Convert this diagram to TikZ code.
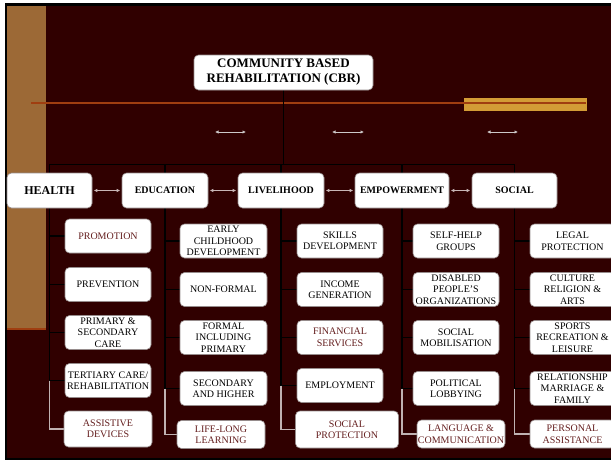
\documentclass[tikz,border=0pt]{standalone}
\usepackage{fontspec}
\setmainfont{Liberation Serif}
\usetikzlibrary{arrows.meta}
\definecolor{bgmaroon}{RGB}{48,0,0}
\definecolor{stripbrown}{RGB}{156,105,54}
\definecolor{goldbar}{RGB}{211,156,54}
\definecolor{orangeline}{RGB}{160,62,16}
\definecolor{boxborder}{RGB}{150,140,140}
\definecolor{hlmaroon}{RGB}{100,30,30}
\definecolor{linkgrey}{RGB}{192,178,178}
\definecolor{arrowgrey}{RGB}{200,182,182}
\definecolor{toparrow}{RGB}{205,200,200}
\pgfdeclarelayer{back}
\pgfdeclarelayer{lines}
\pgfsetlayers{back,lines,main}
\begin{document}
\begin{tikzpicture}[x=1pt,y=-1pt,
  box/.style={draw=boxborder, line width=0.6pt, fill=white, rounded corners=4.5pt,
    inner sep=0pt, align=center, font=\fontsize{10}{11.5}\selectfont},
  cat/.style={box, font=\bfseries\fontsize{10}{12}\selectfont, minimum height=35pt},
  itm/.style={box, minimum width=86pt, minimum height=34pt},
  hl/.style={text=hlmaroon},
  tree/.style={draw=black, line width=1.8pt, line cap=rect},
  lastlink/.style={draw=linkgrey, line width=1.3pt},
  catarrow/.style={draw=arrowgrey, line width=0.9pt,
    arrows={Latex[length=3.5pt,width=3.5pt]-Latex[length=3.5pt,width=3.5pt]},
    shorten <=1.5pt, shorten >=1.5pt},
  toparr/.style={draw=toparrow, line width=0.9pt,
    arrows={Latex[length=3.5pt,width=3.5pt]-Latex[length=3.5pt,width=3.5pt]}}
]
\useasboundingbox (0,0) rectangle (611,461);

% ---------- background ----------
\begin{pgfonlayer}{back}
  \fill[white] (0,0) rectangle (611,461);
  \fill[black] (4.5,3) rectangle (620,460);
  \fill[bgmaroon] (7,6) rectangle (620,457.5);
  \fill[stripbrown] (7,6) rectangle (46,329);
  \draw[orangeline, line width=1.5pt] (7,329) -- (46,329);
  \fill[goldbar] (464,98) rectangle (587,111);
  \draw[orangeline, line width=1.4pt] (31,103) -- (586,103);
\end{pgfonlayer}

% ---------- top node ----------
\node[box, minimum width=179pt, minimum height=35pt,
      font=\bfseries\fontsize{13}{15}\selectfont] (cbr) at (283.5,72.5)
      {COMMUNITY BASED\\REHABILITATION (CBR)};

% ---------- categories ----------
\node[cat, minimum width=85pt, font=\bfseries\fontsize{12}{13}\selectfont] (health) at (49.5,190.5) {HEALTH};
\node[cat, minimum width=86pt] (edu) at (165,190.5) {EDUCATION};
\node[cat, minimum width=86pt] (liv) at (281,190.5) {LIVELIHOOD};
\node[cat, minimum width=94pt] (emp) at (402,190.5) {EMPOWERMENT};
\node[cat, minimum width=85pt] (soc) at (514.5,190.5) {SOCIAL};

% ---------- health ----------
\node[itm, hl] (h1) at (108,236) {PROMOTION};
\node[itm] (h2) at (108,284.5) {PREVENTION};
\node[itm] (h3) at (108,332.5) {PRIMARY \&\\SECONDARY\\CARE};
\node[itm] (h4) at (108,380.5) {TERTIARY CARE/\\REHABILITATION};
\node[itm, hl, minimum width=88pt, minimum height=36pt] (h5) at (108,429) {ASSISTIVE\\DEVICES};

% ---------- education ----------
\node[itm, minimum width=87pt] (e1) at (223.5,241) {EARLY\\CHILDHOOD\\DEVELOPMENT};
\node[itm, minimum width=87pt] (e2) at (223.5,289.5) {NON-FORMAL};
\node[itm, minimum width=87pt] (e3) at (223.5,337.5) {FORMAL\\INCLUDING\\PRIMARY};
\node[itm, minimum width=87pt] (e4) at (223.5,388.5) {SECONDARY\\AND HIGHER};
\node[itm, hl, minimum width=88pt, minimum height=28pt] (e5) at (221,434.5) {LIFE-LONG\\LEARNING};

% ---------- livelihood ----------
\node[itm] (l1) at (340,241) {SKILLS\\DEVELOPMENT};
\node[itm] (l2) at (340,289.5) {INCOME\\GENERATION};
\node[itm, hl] (l3) at (340,337.5) {FINANCIAL\\SERVICES};
\node[itm] (l4) at (340,385.5) {EMPLOYMENT};
\node[itm, hl, minimum width=103pt, minimum height=37pt] (l5) at (347,429.5) {SOCIAL\\PROTECTION};

% ---------- empowerment ----------
\node[itm] (m1) at (456,241) {SELF-HELP\\GROUPS};
\node[itm] (m2) at (456,289.5) {DISABLED\\PEOPLE'S\\ORGANIZATIONS};
\node[itm] (m3) at (456,337.5) {SOCIAL\\MOBILISATION};
\node[itm] (m4) at (456,388.5) {POLITICAL\\LOBBYING};
\node[itm, hl, minimum width=88pt, minimum height=28pt] (m5) at (461,434) {LANGUAGE \&\\COMMUNICATION};

% ---------- social ----------
\node[itm, minimum width=85pt] (s1) at (572.5,241) {LEGAL\\PROTECTION};
\node[itm, minimum width=85pt] (s2) at (572.5,289.5) {CULTURE\\RELIGION \&\\ARTS};
\node[itm, minimum width=85pt] (s3) at (572.5,337.5) {SPORTS\\RECREATION \&\\LEISURE};
\node[itm, minimum width=85pt] (s4) at (572.5,388.5) {RELATIONSHIP\\MARRIAGE \&\\FAMILY};
\node[itm, hl, minimum width=85pt, minimum height=28pt] (s5) at (572.5,434) {PERSONAL\\ASSISTANCE};

% ---------- tree connectors ----------
\begin{pgfonlayer}{lines}
  \coordinate (t1) at (49.5,164.5);
  \coordinate (t2) at (edu |- t1);
  \coordinate (t3) at (liv |- t1);
  \coordinate (t4) at (emp |- t1);
  \coordinate (t5) at (soc |- t1);
  \draw[tree] (cbr.south) -- (cbr.south |- t1);
  \draw[tree] (t1) -- (t5);
  \foreach \c/\p in {t1/h, t2/e, t3/l, t4/m, t5/s}{
    \foreach \i in {1,2,3,4}{
      \draw[tree, line cap=butt] (\c) |- (\p\i.west);
    }
    \draw[lastlink] (\c |- \p4.west) |- (\p5.west);
  }
\end{pgfonlayer}

% ---------- arrows between categories ----------
\draw[catarrow] (health.east) -- (edu.west);
\draw[catarrow] (edu.east) -- (liv.west);
\draw[catarrow] (liv.east) -- (emp.west);
\draw[catarrow] (emp.east) -- (soc.west);

% ---------- loose arrows ----------
\coordinate (a1l) at (215,132); \coordinate (a1r) at (246,132);
\coordinate (a2l) at (332,132); \coordinate (a2r) at (364,132);
\coordinate (a3l) at (487,132); \coordinate (a3r) at (518,132);
\draw[toparr] (a1l) -- (a1r);
\draw[toparr] (a2l) -- (a2r);
\draw[toparr] (a3l) -- (a3r);
\end{tikzpicture}
\end{document}
